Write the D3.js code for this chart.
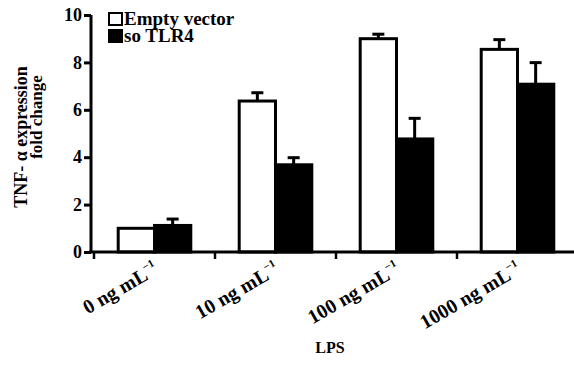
<!DOCTYPE html>
<html>
<head>
<meta charset="utf-8">
<script src="https://cdn.jsdelivr.net/npm/d3@7"></script>
<style>
  body { margin: 0; background: #fff; }
  text { font-family: "Liberation Serif", "Times New Roman", serif; font-weight: bold; fill: #000; }
</style>
</head>
<body>
<div id="chart"></div>
<script>
// LPS doses on the x axis
const categories = ["0 ng mL", "10 ng mL", "100 ng mL", "1000 ng mL"];
const seriesNames = ["Empty vector", "so TLR4"];

// TNF-a fold change
const emptyVector = [1.0, 6.37, 9.0, 8.55];
const emptyVectorErr = [0, 0.35, 0.19, 0.41];
const soTLR4 = [1.12, 3.68, 4.77, 7.08];
const soTLR4Err = [0.27, 0.3, 0.87, 0.91];

const yTicks = [0, 2, 4, 6, 8, 10];

const svgWidth = 574, svgHeight = 366;

const svg = d3.select("#chart").append("svg")
    .attr("width", svgWidth)
    .attr("height", svgHeight)
    .attr("font-family", "Liberation Serif, serif");

// scales
const x = d3.scaleBand().domain(categories).range([94, 578])
    .paddingInner(0.4).paddingOuter(0.2);
const x1 = d3.scaleBand().domain(seriesNames).range([0, x.bandwidth()]);
const y = d3.scaleLinear().domain([0, 10]).range([252, 15]);

const rows = [];
categories.forEach((c, i) => {
    rows.push({ cat: c, s: seriesNames[0], v: emptyVector[i], e: emptyVectorErr[i] });
    rows.push({ cat: c, s: seriesNames[1], v: soTLR4[i], e: soTLR4Err[i] });
});

// error bars (upper only), drawn first so the bars sit on top
const cx = d => x(d.cat) + x1(d.s) + x1.bandwidth() / 2;
const err = svg.append("g").selectAll("g")
    .data(rows.filter(d => d.e > 0))
    .enter().append("g")
    .attr("stroke", "#000")
    .attr("stroke-width", 3);
err.append("line")
    .attr("x1", cx).attr("x2", cx)
    .attr("y1", d => y(d.v))
    .attr("y2", d => y(d.v + d.e));
err.append("line")
    .attr("x1", d => cx(d) - 6)
    .attr("x2", d => cx(d) + 6)
    .attr("y1", d => y(d.v + d.e))
    .attr("y2", d => y(d.v + d.e));

// bars
svg.append("g").selectAll("rect")
    .data(rows)
    .enter().append("rect")
    .attr("x", d => x(d.cat) + x1(d.s))
    .attr("width", x1.bandwidth())
    .attr("y", d => y(d.v))
    .attr("height", d => y(0) - y(d.v))
    .attr("fill", d => d.s === seriesNames[0] ? "#fff" : "#000")
    .attr("stroke", "#000")
    .attr("stroke-width", 3);

// y axis
const yAxis = svg.append("g")
    .attr("transform", "translate(91,0)")
    .call(d3.axisLeft(y).tickValues(yTicks).tickSize(7).tickPadding(2));
yAxis.select(".domain").attr("stroke-width", 3).attr("d", "M0," + y(10) + "V" + y(0));
yAxis.selectAll(".tick line").attr("stroke-width", 3);
yAxis.selectAll("text").style("font-size", "18px");

// x axis line
svg.append("line")
    .attr("x1", 89).attr("x2", 574)
    .attr("y1", y(0)).attr("y2", y(0))
    .attr("stroke", "#000").attr("stroke-width", 3);

// ticks at category boundaries
const step = x.step();
svg.append("g").selectAll("line")
    .data(categories)
    .enter().append("line")
    .attr("x1", d => x(d) - step * x.paddingInner() / 2)
    .attr("x2", d => x(d) - step * x.paddingInner() / 2)
    .attr("y1", y(0))
    .attr("y2", y(0) + 7)
    .attr("stroke", "#000").attr("stroke-width", 2.5);

// rotated category labels
const lab = svg.append("g").selectAll("text")
    .data(categories)
    .enter().append("text")
    .attr("text-anchor", "end")
    .attr("transform", d => "translate(" + (x(d) + x.bandwidth() / 2 + 5) + ",273) rotate(-30)")
    .style("font-size", "20px");
lab.append("tspan").text(d => d);
lab.append("tspan")
    .attr("dy", -9)
    .style("font-size", "11px")
    .text("\u22121");

// x axis title
svg.append("text")
    .attr("x", 330)
    .attr("y", 353)
    .attr("text-anchor", "middle")
    .style("font-size", "16px")
    .text("LPS");

// y axis title (two lines)
svg.append("text")
    .attr("transform", "translate(27,137) rotate(-90)")
    .attr("text-anchor", "middle")
    .style("font-size", "18px")
    .text("TNF- \u03b1 expression");
svg.append("text")
    .attr("transform", "translate(42,117) rotate(-90)")
    .attr("text-anchor", "middle")
    .style("font-size", "17px")
    .text("fold change");

// legend
const legend = svg.append("g").selectAll("g")
    .data(seriesNames)
    .enter().append("g")
    .attr("transform", (d, i) => "translate(109," + (13 + i * 17) + ")");
legend.append("rect")
    .attr("width", 13).attr("height", 12)
    .attr("fill", (d, i) => i === 0 ? "#fff" : "#000")
    .attr("stroke", "#000").attr("stroke-width", 2);
legend.append("text")
    .attr("x", 15).attr("y", 12)
    .style("font-size", "19px")
    .text(d => d);
</script>
</body>
</html>
